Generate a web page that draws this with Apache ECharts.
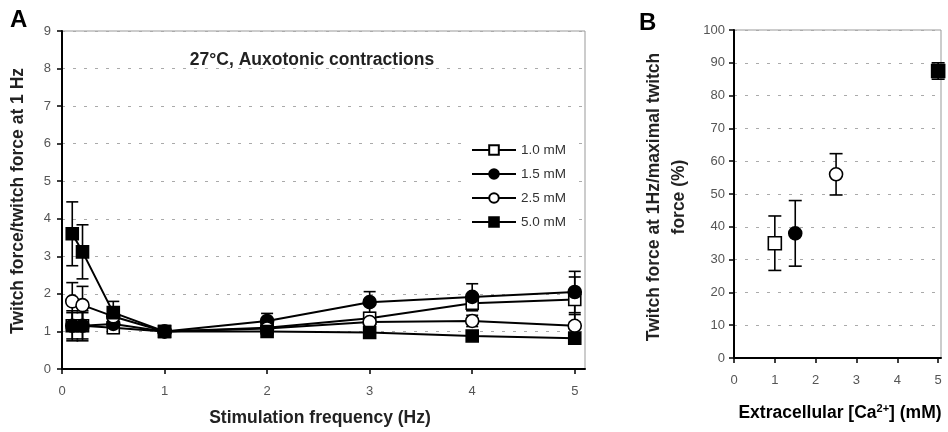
<!DOCTYPE html>
<html>
<head>
<meta charset="utf-8">
<script src="https://cdn.jsdelivr.net/npm/echarts@6/dist/echarts.min.js"></script>
<style>
html, body { margin: 0; padding: 0; background: #fff; }
#main { width: 948px; height: 432px; }
</style>
</head>
<body>
<div id="main"></div>
<script>
// panel A: stimulation frequency (Hz)
var freq = [0.1, 0.2, 0.5, 1, 2, 3, 4, 5]
var names = ['1.0 mM', '1.5 mM', '2.5 mM', '5.0 mM']
var mM10 = [1.15, 1.15, 1.1, 1.0, 1.1, 1.35, 1.75, 1.85]
var err10 = [0.35, 0.35, 0.15, 0.05, 0.1, 0.15, 0.2, 0.6]
var mM15 = [1.15, 1.15, 1.2, 1.0, 1.28, 1.78, 1.92, 2.05]
var err15 = [0.4, 0.4, 0.15, 0.05, 0.2, 0.28, 0.35, 0.55]
var mM25 = [1.8, 1.7, 1.4, 1.0, 1.08, 1.25, 1.28, 1.15]
var err25 = [0.5, 0.5, 0.15, 0.05, 0.1, 0.1, 0.15, 0.3]
var mM50 = [3.6, 3.12, 1.5, 1.0, 1.0, 0.97, 0.88, 0.82]
var err50 = [0.85, 0.72, 0.3, 0.05, 0.1, 0.1, 0.1, 0.15]
var ticksA = [0, 1, 2, 3, 4, 5]

// panel B: extracellular calcium (mM)
var caB = [1, 1.5, 2.5, 5]
var pctB = [35, 38, 56, 87.5]
var errB = [8.3, 10, 6.3, 2.5]
var ticksB = [0, 1, 2, 3, 4, 5]

var symbols = ['rect', 'circle', 'circle', 'rect']
var filled = [false, true, false, true]
var font = 'Liberation Sans, Arial, sans-serif'
var titleFont = 'bold 17.5px ' + font

var chart = echarts.init(document.getElementById('main'))

function markerStyle(i) {
  return {
    color: filled[i] ? '#000' : '#fff',
    borderColor: '#000',
    borderWidth: 1.6,
    opacity: 1
  }
}

function errorBar(cap) {
  return function (params, api) {
    var x = api.value(0)
    var lo = api.coord([x, api.value(1)])
    var hi = api.coord([x, api.value(2)])
    var st = { stroke: '#000', lineWidth: 1.6 }
    return {
      type: 'group',
      children: [
        { type: 'line', shape: { x1: lo[0], y1: lo[1], x2: hi[0], y2: hi[1] }, style: st },
        { type: 'line', shape: { x1: lo[0] - cap, y1: lo[1], x2: lo[0] + cap, y2: lo[1] }, style: st },
        { type: 'line', shape: { x1: hi[0] - cap, y1: hi[1], x2: hi[0] + cap, y2: hi[1] }, style: st }
      ]
    }
  }
}

var valuesA = [mM10, mM15, mM25, mM50]
var errsA = [err10, err15, err25, err50]

var barsA = []
valuesA.forEach(function (vals, i) {
  vals.forEach(function (v, j) {
    barsA.push([freq[j], v - errsA[i][j], v + errsA[i][j]])
  })
})
var barsB = caB.map(function (x, j) {
  return [x, pctB[j] - errB[j], pctB[j] + errB[j]]
})

var axisLabelStyle = { color: '#555', fontSize: 13, fontFamily: font }
var dashed = { lineStyle: { color: '#aaa', type: [3, 8], width: 1 } }
var blackAxis = { lineStyle: { color: '#000', width: 2 } }

var series = [{
  type: 'custom',
  xAxisIndex: 0,
  yAxisIndex: 0,
  renderItem: errorBar(6),
  encode: { x: 0, y: [1, 2] },
  data: barsA,
  z: 3
}]

valuesA.forEach(function (vals, i) {
  series.push({
    name: names[i],
    type: 'line',
    xAxisIndex: 0,
    yAxisIndex: 0,
    data: vals.map(function (v, j) { return [freq[j], v] }),
    symbol: symbols[i],
    symbolSize: symbols[i] === 'rect' ? 12 : 13,
    lineStyle: { color: '#000', width: 2 },
    itemStyle: markerStyle(i),
    z: 4
  })
})

series.push({
  type: 'custom',
  xAxisIndex: 1,
  yAxisIndex: 1,
  renderItem: errorBar(6.5),
  encode: { x: 0, y: [1, 2] },
  data: barsB,
  z: 3
})
series.push({
  type: 'scatter',
  xAxisIndex: 1,
  yAxisIndex: 1,
  data: caB.map(function (x, j) {
    return {
      value: [x, pctB[j]],
      symbol: symbols[j],
      symbolSize: 13,
      itemStyle: markerStyle(j)
    }
  }),
  z: 4
})

var option = {
  animation: false,
  backgroundColor: '#fff',
  textStyle: { fontFamily: font },
  grid: [
    { left: 62, right: 363, top: 31, bottom: 63, show: true, borderColor: '#999', borderWidth: 1 },
    { left: 734, right: 7, top: 30, bottom: 74, show: true, borderColor: '#999', borderWidth: 1 }
  ],
  legend: {
    orient: 'vertical',
    left: 463,
    top: 139,
    padding: [4, 6, 4, 8],
    backgroundColor: '#fff',
    itemWidth: 44,
    itemHeight: 12,
    itemGap: 10,
    data: names,
    textStyle: { color: '#333', fontSize: 13.5, fontFamily: font }
  },
  xAxis: [{
    type: 'value',
    gridIndex: 0,
    min: 0,
    max: 5.1,
    axisLine: blackAxis,
    axisTick: { customValues: ticksA, length: 5, lineStyle: { color: '#000', width: 1.5 } },
    axisLabel: Object.assign({ customValues: ticksA, margin: 16 }, axisLabelStyle),
    splitLine: { show: false }
  }, {
    type: 'value',
    gridIndex: 1,
    min: 0,
    max: 5.07,
    axisLine: blackAxis,
    axisTick: { customValues: ticksB, length: 5, lineStyle: { color: '#000', width: 1.5 } },
    axisLabel: Object.assign({ customValues: ticksB, margin: 16 }, axisLabelStyle),
    splitLine: { show: false }
  }],
  yAxis: [{
    type: 'value',
    gridIndex: 0,
    min: 0,
    max: 9,
    interval: 1,
    axisLine: Object.assign({ show: true }, blackAxis),
    axisTick: { show: true, length: 5, lineStyle: { color: '#000', width: 1.5 } },
    axisLabel: Object.assign({ margin: 11 }, axisLabelStyle),
    splitLine: dashed
  }, {
    type: 'value',
    gridIndex: 1,
    min: 0,
    max: 100,
    interval: 10,
    axisLine: Object.assign({ show: true }, blackAxis),
    axisTick: { show: true, length: 5, lineStyle: { color: '#000', width: 1.5 } },
    axisLabel: Object.assign({ margin: 9 }, axisLabelStyle),
    splitLine: dashed
  }],
  graphic: [
    { type: 'text', left: 10, top: 8, style: { text: 'A', font: 'bold 24px ' + font, fill: '#000' } },
    { type: 'text', left: 639, top: 11, style: { text: 'B', font: 'bold 24px ' + font, fill: '#000' } },
    { type: 'text', x: 312, y: 60, style: { text: '27°C, Auxotonic contractions', font: titleFont, fill: '#222', align: 'center', verticalAlign: 'middle' } },
    { type: 'text', x: 320, y: 418, style: { text: 'Stimulation frequency (Hz)', font: titleFont, fill: '#222', align: 'center', verticalAlign: 'middle' } },
    { type: 'text', x: 18, y: 201, rotation: Math.PI / 2, style: { text: 'Twitch force/twitch force at 1 Hz', font: titleFont, fill: '#222', align: 'center', verticalAlign: 'middle' } },
    { type: 'text', x: 654, y: 197, rotation: Math.PI / 2, style: { text: 'Twitch force at 1Hz/maximal twitch', font: titleFont, fill: '#222', align: 'center', verticalAlign: 'middle' } },
    { type: 'text', x: 679, y: 197, rotation: Math.PI / 2, style: { text: 'force (%)', font: titleFont, fill: '#222', align: 'center', verticalAlign: 'middle' } },
    {
      type: 'text', x: 840, y: 413,
      style: {
        text: '{n|Extracellular [Ca}{s|2+}{n|] (mM)}',
        align: 'center', verticalAlign: 'middle',
        rich: {
          n: { font: titleFont, color: '#222' },
          s: { font: 'bold 11px ' + font, color: '#222', verticalAlign: 'top', padding: [0, 0, 9, 0] }
        }
      }
    }
  ],
  series: series
}

chart.setOption(option)
</script>
</body>
</html>
